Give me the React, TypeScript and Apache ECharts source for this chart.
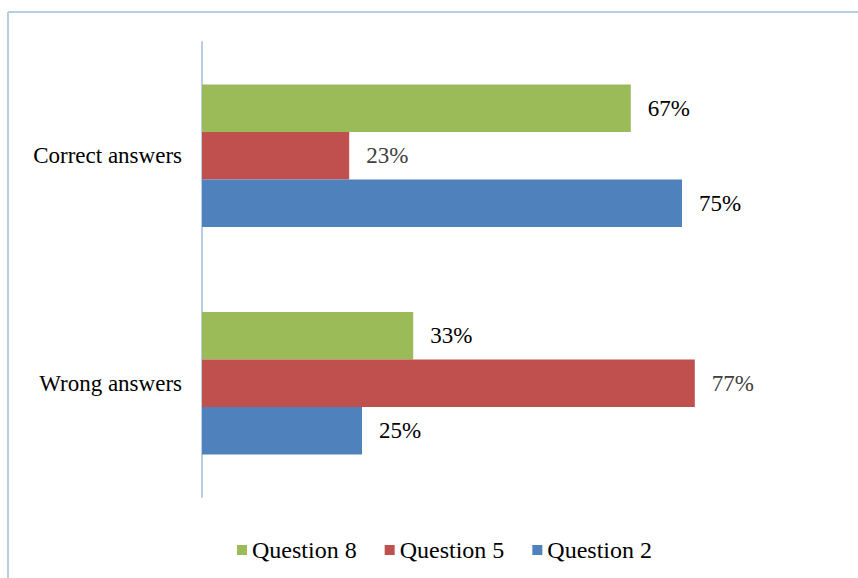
import React, { useEffect, useRef } from "react";
import * as echarts from "echarts";

const categories = ["Wrong answers", "Correct answers"];
const question8 = [0.33, 0.67];
const question5 = [0.77, 0.23];
const question2 = [0.25, 0.75];
const legendNames = ["Question 8", "Question 5", "Question 2"];

const FONT = "Liberation Serif";
const FS = 23;

export default function App() {
  const ref = useRef<HTMLDivElement>(null);
  useEffect(() => {
    if (!ref.current) return;
    const chart = echarts.init(ref.current, null, { renderer: "svg" });
    const mkLabel = (color: string) => ({
      show: true,
      position: "right" as const,
      distance: 17,
      fontFamily: FONT,
      fontSize: FS,
      color,
      textBorderWidth: 0,
      formatter: (p: any) => Math.round(p.value * 100) + "%",
    });
    chart.setOption({
      animation: false,
      textStyle: { fontFamily: FONT },
      grid: { left: 202, right: 16, top: 42, bottom: 81, containLabel: false },
      xAxis: {
        type: "value",
        min: 0,
        max: 1,
        show: false,
      },
      yAxis: {
        type: "category",
        data: categories,
        axisLine: { show: true, lineStyle: { color: "#b9cde5", width: 2 } },
        axisTick: { show: false },
        axisLabel: { fontFamily: FONT, fontSize: FS, color: "#000", margin: 20 },
        splitLine: { show: false },
      },
      legend: {
        data: legendNames,
        top: 533,
        left: 232,
        itemWidth: 10,
        itemHeight: 10,
        itemGap: 28,
        icon: "rect",
        textStyle: { fontFamily: FONT, fontSize: 24, color: "#000" },
      },
      series: [
        {
          name: "Question 8",
          type: "bar",
          data: question8,
          barGap: "0%",
          barCategoryGap: "37.4%",
          itemStyle: { color: "#9bbb59" },
          label: mkLabel("#000"),
        },
        {
          name: "Question 5",
          type: "bar",
          data: question5,
          barGap: "0%",
          barCategoryGap: "37.4%",
          itemStyle: { color: "#c0504d" },
          label: mkLabel("#404040"),
        },
        {
          name: "Question 2",
          type: "bar",
          data: question2,
          barGap: "0%",
          barCategoryGap: "37.4%",
          itemStyle: { color: "#4f81bd" },
          label: mkLabel("#000"),
        },
      ],
      graphic: [
        {
          type: "line",
          shape: { x1: 8, y1: 12, x2: 858, y2: 12 },
          style: { stroke: "#b9cde5", lineWidth: 2 },
          silent: true,
        },
        {
          type: "line",
          shape: { x1: 8, y1: 12, x2: 8, y2: 578 },
          style: { stroke: "#b9cde5", lineWidth: 2 },
          silent: true,
        },
      ],
    });
    return () => chart.dispose();
  }, []);
  return (
    <div
      ref={ref}
      style={{ position: "fixed", left: 0, top: 0, width: 858, height: 578, background: "#fff" }}
    />
  );
}
